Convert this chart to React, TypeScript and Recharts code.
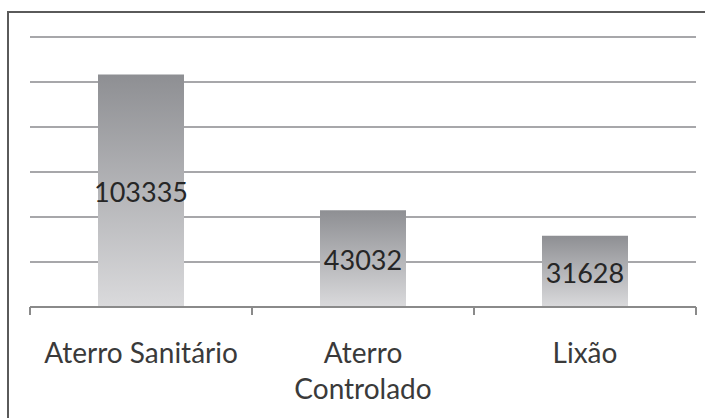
import { BarChart, Bar, XAxis, YAxis, CartesianGrid, LabelList } from "recharts";

const categories = ["Aterro Sanitário", "Aterro Controlado", "Lixão"];
const values = [103335, 43032, 31628];
// category labels as they wrap under the axis
const tickLines = [["Aterro Sanitário"], ["Aterro", "Controlado"], ["Lixão"]];
const yTicks = [0, 20000, 40000, 60000, 80000, 100000, 120000];
// category boundaries on the base axis (0..3)
const edgeTicks = [0, 1, 2, 3];
const slots = [0.5, 1.5, 2.5];

const data = categories.map((name, i) => ({ name, value: values[i], slot: slots[i] }));

const FONT = "Lato, 'Open Sans', sans-serif";

const CategoryTick = (props: any) => {
  const { x, y, index } = props;
  const lines = tickLines[index] || [props.payload.value];
  return (
    <text x={x} y={y} textAnchor="middle" fill="#3a3a3a" fontSize={28} fontFamily={FONT}>
      {lines.map((l: string, i: number) => (
        <tspan key={i} x={x} dy={i === 0 ? 55 : 36}>
          {l}
        </tspan>
      ))}
    </text>
  );
};

export default function App() {
  return (
    <div style={{ position: "absolute", left: 0, top: 0, width: 705, height: 418, background: "#fff" }}>
      <div
        style={{
          position: "absolute",
          left: 7,
          top: 11,
          right: 0,
          bottom: 0,
          borderTop: "2px solid #5a5a5a",
          borderLeft: "2px solid #5a5a5a",
        }}
      />
      <div style={{ position: "absolute", left: 0, top: 0 }}>
        <BarChart width={705} height={418} data={data} margin={{ top: 37, right: 9, left: 30, bottom: 11 }}>
          <defs>
            <linearGradient id="barGrad" x1="0" y1="0" x2="0" y2="1">
              <stop offset="0%" stopColor="#8e8f93" />
              <stop offset="100%" stopColor="#dadadc" />
            </linearGradient>
          </defs>
          <CartesianGrid vertical={false} stroke="#a7a7aa" strokeWidth={2} />
          <XAxis
            xAxisId="axisBase"
            type="number"
            dataKey="slot"
            domain={[0, 3]}
            ticks={edgeTicks}
            interval={0}
            allowDataOverflow
            height={1}
            tickFormatter={() => ""}
            tickSize={8}
            axisLine={{ stroke: "#8a8a8a", strokeWidth: 2 }}
            tickLine={{ stroke: "#8a8a8a", strokeWidth: 2 }}
          />
          <XAxis
            xAxisId="labels"
            dataKey="name"
            height={99}
            axisLine={false}
            tickLine={false}
            tickSize={0}
            tickMargin={0}
            interval={0}
            tick={<CategoryTick />}
          />
          <YAxis hide domain={[0, 120000]} ticks={yTicks} />
          <Bar xAxisId="labels" dataKey="value" fill="url(#barGrad)" barSize={86} isAnimationActive={false}>
            <LabelList
              dataKey="value"
              position="center"
              fill="#262626"
              fontSize={27}
              fontFamily={FONT}
              dy={2}
            />
          </Bar>
        </BarChart>
      </div>
    </div>
  );
}
